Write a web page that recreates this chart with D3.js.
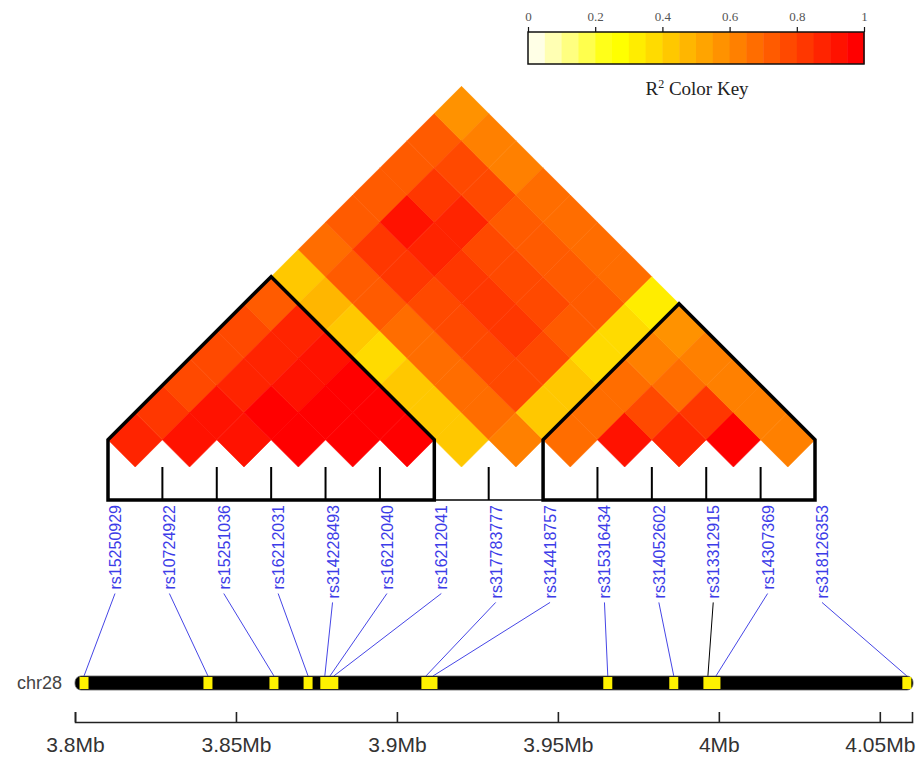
<!DOCTYPE html>
<html>
<head>
<meta charset="utf-8">
<script src="https://cdn.jsdelivr.net/npm/d3@7"></script>
<style>
  html, body { margin: 0; padding: 0; background: #ffffff; }
  svg { display: block; }
</style>
</head>
<body>
<svg id="chart" width="916" height="760"></svg>
<script>
// ---------------- DATA ----------------
const snpNames = ["rs15250929","rs10724922","rs15251036","rs16212031","rs314228493","rs16212040","rs16212041",
                  "rs317783777","rs314418757","rs315316434","rs314052602","rs313312915","rs14307369","rs318126353"];
const snpPositionsMb = [3.8028, 3.8413, 3.8618, 3.8724, 3.8776, 3.8792, 3.8804,
                        3.9090, 3.9112, 3.9655, 3.9860, 3.9966, 3.9991, 4.0584];
// R² values, row i holds pairs (i, i+1), (i, i+2), ...
const ldRow0  = [0.87, 0.82, 0.77, 0.77, 0.77, 0.72, 0.42, 0.67, 0.72, 0.72, 0.72, 0.72, 0.57];
const ldRow1  = [0.92, 0.92, 0.87, 0.87, 0.87, 0.47, 0.72, 0.82, 0.92, 0.82, 0.77, 0.62];
const ldRow2  = [0.92, 0.97, 0.92, 0.92, 0.42, 0.72, 0.82, 0.87, 0.87, 0.77, 0.62];
const ldRow3  = [0.97, 0.97, 0.97, 0.37, 0.67, 0.77, 0.82, 0.77, 0.72, 0.67];
const ldRow4  = [0.97, 0.97, 0.42, 0.67, 0.77, 0.82, 0.77, 0.72, 0.67];
const ldRow5  = [0.97, 0.42, 0.67, 0.77, 0.82, 0.77, 0.72, 0.67];
const ldRow6  = [0.42, 0.67, 0.77, 0.77, 0.72, 0.72, 0.67];
const ldRow7  = [0.62, 0.42, 0.42, 0.37, 0.37, 0.33];
const ldRow8  = [0.67, 0.67, 0.67, 0.62, 0.57];
const ldRow9  = [0.92, 0.77, 0.67, 0.62];
const ldRow10 = [0.87, 0.82, 0.62];
const ldRow11 = [0.97, 0.62];
const ldRow12 = [0.62];
const ldRows = [ldRow0, ldRow1, ldRow2, ldRow3, ldRow4, ldRow5, ldRow6, ldRow7, ldRow8, ldRow9, ldRow10, ldRow11, ldRow12];

const haploBlocks = [[0, 6], [8, 13]];
const highlightedSnp = "rs313312915";
const chromosomeName = "chr28";
const genomeDomainMb = [3.8, 4.06];
const axisTicksMb = [3.8, 3.85, 3.9, 3.95, 4.0, 4.05];
const keyTicks = [0, 0.2, 0.4, 0.6, 0.8, 1];
const keyTitle = "Color Key";

// ---------------- PALETTE (R heat.colors(20), reversed) ----------------
function hsvSector0(h, s, v) {
  const f = h * 6;
  const r = v, g = v * (1 - s * (1 - f)), b = v * (1 - s);
  return d3.rgb(Math.round(r * 255), Math.round(g * 255), Math.round(b * 255)).formatHex();
}
function heatColors(n) {
  const j = Math.floor(n / 4), i = n - j, out = [];
  for (let m = 0; m < i; m++) out.push(hsvSector0((m / (i - 1)) / 6, 1, 1));
  const s0 = 1 - 1 / (2 * j), s1 = 1 / (2 * j);
  for (let m = 0; m < j; m++) out.push(hsvSector0(1 / 6, s0 + (s1 - s0) * m / (j - 1), 1));
  return out;
}
const palette = heatColors(20).reverse();
const color = d3.scaleQuantize().domain([0, 1]).range(palette);

// ---------------- LAYOUT ----------------
const svg = d3.select("#chart");
const x = d3.scalePoint().domain(snpNames).range([108, 815]);
const half = x.step() / 2;
const baseY = 467;
const boxBottom = 500;
const labelTop = 505;
const chrTop = 676, chrH = 14;
const g = d3.scaleLinear().domain(genomeDomainMb).range([75, 912]);

// ---------------- HEATMAP ----------------
const cells = [];
ldRows.forEach((row, i) => row.forEach((v, k) => {
  const j = i + k + 1;
  cells.push({ i, j, v });
}));
svg.append("g").selectAll("path").data(cells).join("path")
  .attr("d", d => {
    const xi = x(snpNames[d.i]), xj = x(snpNames[d.j]);
    const cx = (xi + xj) / 2, cy = baseY - (xj - xi) / 2;
    return `M${cx},${cy - half}L${cx + half},${cy}L${cx},${cy + half}L${cx - half},${cy}Z`;
  })
  .attr("fill", d => color(d.v))
  .attr("stroke", d => color(d.v))
  .attr("stroke-width", 0.6);

// ---------------- BLOCK OUTLINES & TICKS ----------------
const topY = baseY - half;
svg.append("line")
  .attr("x1", x(snpNames[haploBlocks[0][1]])).attr("x2", x(snpNames[haploBlocks[1][0]]))
  .attr("y1", boxBottom).attr("y2", boxBottom)
  .attr("stroke", "#000").attr("stroke-width", 1.5);
svg.append("g").selectAll("line").data(snpNames).join("line")
  .attr("x1", d => x(d)).attr("x2", d => x(d))
  .attr("y1", baseY).attr("y2", boxBottom)
  .attr("stroke", "#000").attr("stroke-width", 2);
svg.append("g").selectAll("path").data(haploBlocks).join("path")
  .attr("d", b => {
    const x0 = x(snpNames[b[0]]), x1 = x(snpNames[b[1]]);
    const ax = (x0 + x1) / 2, ay = topY - (x1 - x0) / 2;
    return `M${x0},${boxBottom}L${x0},${topY}L${ax},${ay}L${x1},${topY}L${x1},${boxBottom}Z`;
  })
  .attr("fill", "none").attr("stroke", "#000").attr("stroke-width", 3.5)
  .attr("stroke-linejoin", "miter");

// ---------------- SNP LABELS & CONNECTORS ----------------
const labels = svg.append("g").selectAll("text").data(snpNames).join("text")
  .attr("transform", d => `translate(${x(d) + 13},${labelTop}) rotate(-90)`)
  .attr("text-anchor", "end")
  .style("font-family", "'Liberation Sans', Arial, sans-serif")
  .style("font-size", "16px")
  .attr("fill", "#3c3ce8")
  .text(d => d);
const lens = labels.nodes().map(n => n.getComputedTextLength());
svg.append("g").selectAll("line").data(snpNames).join("line")
  .attr("x1", d => x(d) + 7)
  .attr("y1", (d, i) => labelTop + lens[i] + 4)
  .attr("x2", (d, i) => g(snpPositionsMb[i]))
  .attr("y2", chrTop)
  .attr("stroke", d => d === highlightedSnp ? "#000" : "#4646e6")
  .attr("stroke-width", 1);

// ---------------- CHROMOSOME ----------------
svg.append("rect")
  .attr("x", g(genomeDomainMb[0])).attr("y", chrTop)
  .attr("width", g(genomeDomainMb[1]) - g(genomeDomainMb[0]) + 1).attr("height", chrH)
  .attr("rx", 6).attr("ry", 6)
  .attr("fill", "#000").attr("stroke", "#666").attr("stroke-width", 0.8);
svg.append("g").selectAll("rect").data(snpPositionsMb).join("rect")
  .attr("x", d => g(d) - 4.5).attr("y", chrTop + 1)
  .attr("width", 9).attr("height", chrH - 2)
  .attr("fill", "#fff200");
svg.append("text")
  .attr("x", 62).attr("y", chrTop + chrH / 2)
  .attr("text-anchor", "end").attr("dominant-baseline", "central")
  .style("font-family", "'Liberation Sans', Arial, sans-serif")
  .style("font-size", "18px").attr("fill", "#444")
  .text(chromosomeName);

// ---------------- GENOMIC AXIS ----------------
const axis = d3.axisBottom(g)
  .tickValues(axisTicksMb)
  .tickFormat(d => d3.format("~g")(d) + "Mb")
  .tickSize(-10).tickSizeOuter(-10).tickPadding(15);
const ax = svg.append("g").attr("transform", "translate(0,722)").call(axis);
ax.select(".domain").attr("stroke", "#222").attr("stroke-width", 1.6);
ax.selectAll(".tick line").attr("stroke", "#222").attr("stroke-width", 1.6);
ax.selectAll(".tick text")
  .style("font-family", "'Liberation Sans', Arial, sans-serif")
  .style("font-size", "21px").attr("fill", "#333");

// ---------------- COLOR KEY ----------------
const k = d3.scaleLinear().domain([0, 1]).range([528, 864]);
const keyTop = 32, keyH = 32;
svg.append("g").selectAll("rect").data(palette).join("rect")
  .attr("x", (d, i) => k(i / palette.length))
  .attr("y", keyTop)
  .attr("width", (d, i) => k((i + 1) / palette.length) - k(i / palette.length) + 0.5)
  .attr("height", keyH)
  .attr("fill", d => d);
svg.append("rect")
  .attr("x", k(0)).attr("y", keyTop).attr("width", k(1) - k(0)).attr("height", keyH)
  .attr("fill", "none").attr("stroke", "#111").attr("stroke-width", 1.5);
const kAxis = d3.axisTop(k).tickValues(keyTicks).tickFormat(d3.format("~g")).tickSize(5).tickSizeOuter(0).tickPadding(6);
const kg = svg.append("g").attr("transform", `translate(0,${keyTop})`).call(kAxis);
kg.select(".domain").remove();
kg.selectAll(".tick line").attr("stroke", "#111").attr("stroke-width", 1.2);
kg.selectAll(".tick text")
  .style("font-family", "'Liberation Serif', 'Times New Roman', serif")
  .style("font-size", "13px").attr("fill", "#555");
const title = svg.append("text")
  .attr("x", (k(0) + k(1)) / 2 + 1).attr("y", 95)
  .attr("text-anchor", "middle")
  .style("font-family", "'Liberation Serif', 'Times New Roman', serif")
  .style("font-size", "19px").attr("fill", "#222");
title.append("tspan").text("R");
title.append("tspan").attr("dy", -7).style("font-size", "12px").text("2");
title.append("tspan").attr("dy", 7).text(" " + keyTitle);
</script>
</body>
</html>
